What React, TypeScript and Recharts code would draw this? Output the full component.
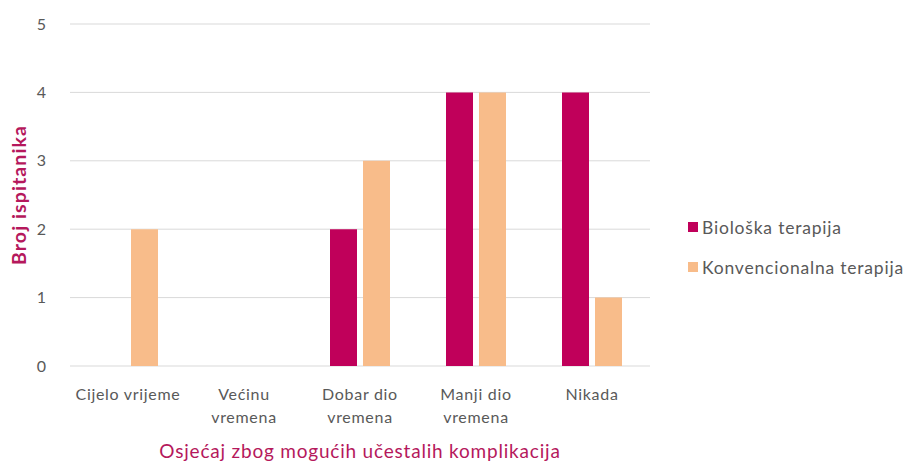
import { BarChart, Bar, XAxis, YAxis, CartesianGrid } from "recharts";

const categories = ["Cijelo vrijeme", "Većinu vremena", "Dobar dio vremena", "Manji dio vremena", "Nikada"];
const tickLines = [["Cijelo vrijeme"], ["Većinu", "vremena"], ["Dobar dio", "vremena"], ["Manji dio", "vremena"], ["Nikada"]];
const bioloska = [0, 0, 2, 4, 4];
const konvencionalna = [2, 0, 3, 4, 1];
const yTicks = [0, 1, 2, 3, 4, 5];

const CRIMSON = "#C0005A";
const PEACH = "#F8BC8A";
const TITLE = "#B5185C";
const FONT = "Lato, 'Open Sans', sans-serif";

const data = categories.map((c, i) => ({ name: c, bio: bioloska[i], konv: konvencionalna[i] }));

function CategoryTick({ x, y, payload }: any) {
  const idx = categories.indexOf(payload.value);
  const lines = tickLines[idx] ?? [payload.value];
  return (
    <text x={x} y={y} textAnchor="middle" fill="#595959" fontSize={16} letterSpacing={0.7} fontFamily={FONT}>
      {lines.map((l, i) => (
        <tspan key={i} x={x} dy={i === 0 ? 26 : 23}>{l}</tspan>
      ))}
    </text>
  );
}

function YTitle({ viewBox }: any) {
  const cy = viewBox.y + viewBox.height / 2;
  return (
    <text
      x={26}
      y={cy}
      transform={`rotate(-90 26 ${cy})`}
      textAnchor="middle"
      fill={TITLE}
      fontSize={19.5}
      fontWeight={700}
      letterSpacing={1.1}
      fontFamily={FONT}
    >
      Broj ispitanika
    </text>
  );
}

function LegendBox() {
  const items = [
    { label: "Biološka terapija", color: CRIMSON },
    { label: "Konvencionalna terapija", color: PEACH },
  ];
  return (
    <div style={{ position: "absolute", left: 688, top: 207, fontFamily: FONT, fontSize: 17.5, letterSpacing: 0.8, color: "#595959" }}>
      {items.map((it) => (
        <div key={it.label} style={{ display: "flex", alignItems: "center", height: 40 }}>
          <span style={{ width: 10, height: 10, background: it.color, marginRight: 4, display: "inline-block" }} />
          {it.label}
        </div>
      ))}
    </div>
  );
}

export default function App() {
  return (
    <div style={{ position: "absolute", left: 0, top: 0, width: 909, height: 462, background: "#fff" }}>
      <BarChart
        width={909}
        height={462}
        data={data}
        margin={{ top: 24, right: 259, bottom: 66, left: 0 }}
        barGap={6}
        barSize={27}
      >
        <CartesianGrid vertical={false} stroke="#D9D9D9" strokeWidth={1} />
        <XAxis
          dataKey="name"
          axisLine={false}
          tickLine={false}
          interval={0}
          height={30}
          tick={<CategoryTick />}
          label={{
            value: "Osjećaj zbog mogućih učestalih komplikacija",
            position: "insideBottom",
            offset: -62,
            fill: TITLE,
            fontSize: 19,
            letterSpacing: 0.8,
            fontFamily: FONT,
          }}
        />
        <YAxis
          width={70}
          domain={[0, 5]}
          ticks={yTicks}
          axisLine={false}
          tickLine={false}
          tick={{ fill: "#595959", fontSize: 16, fontFamily: FONT }}
          tickMargin={18}
          label={<YTitle />}
        />
        <Bar dataKey="bio" name="Biološka terapija" fill={CRIMSON} isAnimationActive={false} />
        <Bar dataKey="konv" name="Konvencionalna terapija" fill={PEACH} isAnimationActive={false} />
      </BarChart>
      <LegendBox />
    </div>
  );
}
